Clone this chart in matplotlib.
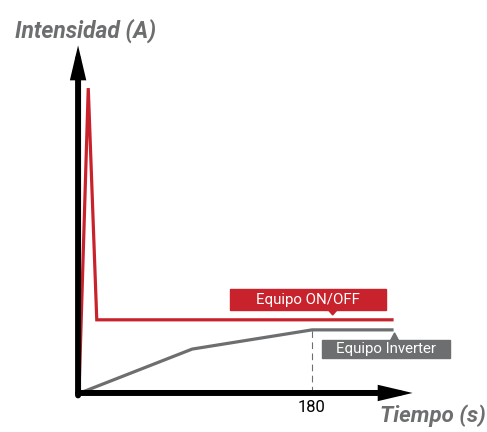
import matplotlib.pyplot as plt
from matplotlib.patches import Rectangle, Polygon

# time (s) and intensity (arbitrary units)
onoff_t = [-0.8, 6.4, 13, 242]
onoff_i = [0, 100, 24, 24]
inverter_t = [0, 87, 180, 242]
inverter_i = [0, 14.4, 20.7, 20.7]
tick_t = 180

RED = "#c8232c"
GRAY = "#6d6e70"
FONT = ["Roboto", "DejaVu Sans"]

fig = plt.figure(figsize=(4.87, 4.32), dpi=100)
ax = fig.add_axes([0, 0, 1, 1])
ax.set_xlim(-62.06, 315.7)
ax.set_ylim(-12.8, 128.9)
ax.axis("off")

# axes arrows
arrow = dict(arrowstyle="-|>,head_length=0.85,head_width=0.2", lw=4.3,
             color="black", shrinkA=0, shrinkB=0, mutation_scale=16,
             joinstyle="miter")
ax.annotate("", xy=(258, 0), xytext=(-1.5, 0), arrowprops=arrow, zorder=5)
ax.annotate("", xy=(-1.5, 114), xytext=(-1.5, -0.8), arrowprops=arrow, zorder=5)

ax.plot(onoff_t, onoff_i, color=RED, lw=2.3, solid_joinstyle="miter", zorder=3)
ax.plot(inverter_t, inverter_i, color=GRAY, lw=2.3, solid_joinstyle="miter", zorder=3)

ax.plot([tick_t, tick_t], [0, inverter_i[2]], color=GRAY, lw=0.8,
        ls=(0, (6, 4)), zorder=2)
ax.text(tick_t, -2.4, str(tick_t), ha="center", va="top", fontsize=12,
        family=FONT, color="black")

# labels with pointer
ax.add_patch(Rectangle((116.4, 27.2), 121, 6.9, color=RED, zorder=4))
ax.add_patch(Polygon([(192.5, 27.3), (199.5, 27.3), (196, 25.6)], color=RED, zorder=4))
ax.text(177, 30.6, "Equipo ON/OFF", ha="center", va="center", fontsize=10.8,
        family=FONT, color="white", zorder=6)

ax.add_patch(Rectangle((187.7, 11.5), 99.3, 5.9, color=GRAY, zorder=4))
ax.add_patch(Polygon([(241, 17.3), (247, 17.3), (244, 19.7)], color=GRAY, zorder=4))
ax.text(237.3, 14.4, "Equipo Inverter", ha="center", va="center", fontsize=10.8,
        family=FONT, color="white", zorder=6)

# axis titles
fig.text(15 / 487, 1 - 31 / 432, "Intensidad (A)", ha="left", va="center",
         fontsize=16.5, fontweight="bold", fontstyle="italic", family=FONT, color=GRAY)
fig.text(1 - 1 / 487, 1 - 416 / 432, "Tiempo (s)", ha="right", va="center",
         fontsize=16, fontweight="bold", fontstyle="italic", family=FONT, color=GRAY)

fig.savefig("out.png", dpi=100)
